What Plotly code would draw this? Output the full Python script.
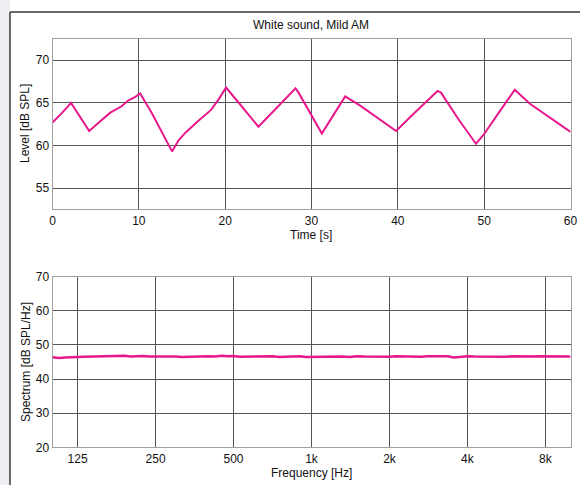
import plotly.graph_objects as go

# ---- data ----
time_s = [0, 1.0, 2.15, 3.2, 4.25, 5.5, 6.7, 8.0, 8.8, 9.6, 10.15, 11.5, 12.8, 13.85,
          14.6, 15.4, 16.8, 18.4, 19.3, 20.1, 21.5, 23.0, 23.85, 25.0, 26.5, 28.15,
          28.5, 29.8, 31.2, 32.5, 33.9, 35.6, 37.8, 39.8, 41.5, 43.2, 44.6, 45.0,
          47.0, 49.05, 49.9, 51.8, 53.55, 55.3, 57.5, 60.0]
level_db = [62.7, 63.7, 65.0, 63.3, 61.7, 62.8, 63.85, 64.6, 65.3, 65.7, 66.1, 63.8,
            61.4, 59.3, 60.6, 61.5, 62.8, 64.2, 65.5, 66.8, 65.1, 63.2, 62.2, 63.4,
            65.0, 66.7, 66.2, 63.9, 61.4, 63.5, 65.75, 64.7, 63.1, 61.7, 63.4, 65.0,
            66.4, 66.2, 63.1, 60.2, 61.2, 64.0, 66.55, 64.9, 63.35, 61.6]

freq_hz = [100, 106, 112, 118, 125, 132, 140, 150, 160, 170, 180, 190, 200, 212, 224,
           236, 250, 265, 280, 300, 315, 335, 355, 375, 400, 425, 450, 475, 500, 530,
           560, 600, 630, 670, 710, 750, 800, 850, 900, 950, 1000, 1060, 1120, 1180,
           1250, 1320, 1400, 1500, 1600, 1700, 1800, 1900, 2000, 2120, 2240, 2360,
           2500, 2650, 2800, 3000, 3150, 3350, 3550, 3750, 4000, 4250, 4500, 4750,
           5000, 5300, 5600, 6000, 6300, 6700, 7100, 7500, 8000, 8500, 9000, 9500, 10000]
spectrum_db = [46.4, 46.2, 46.3, 46.45, 46.5, 46.55, 46.6, 46.6, 46.75, 46.85, 46.95,
               46.8, 46.6, 46.7, 46.75, 46.6, 46.65, 46.6, 46.75, 46.6, 46.45, 46.55,
               46.5, 46.6, 46.7, 46.6, 46.8, 46.65, 46.75, 46.55, 46.6, 46.5, 46.65,
               46.55, 46.7, 46.5, 46.6, 46.55, 46.7, 46.5, 46.55, 46.6, 46.5, 46.65,
               46.55, 46.6, 46.5, 46.7, 46.6, 46.55, 46.65, 46.6, 46.55, 46.65, 46.6,
               46.5, 46.6, 46.55, 46.65, 46.6, 46.5, 46.65, 46.35, 46.6, 46.7, 46.6,
               46.55, 46.6, 46.5, 46.6, 46.55, 46.65, 46.6, 46.55, 46.6, 46.65, 46.6,
               46.55, 46.6, 46.55, 46.6]

freq_tickvals = [125, 250, 500, 1000, 2000, 4000, 8000]
freq_ticktext = ["125", "250", "500", "1k", "2k", "4k", "8k"]

title_text = "White sound, Mild AM"

# ---- figure ----
W, H = 580, 485
LINE = "#e8188c"
GRID = "#555555"
FRAME = "#a0a0a0"
FONT = "Liberation Sans, Arial, sans-serif"

fig = go.Figure()
fig.add_trace(go.Scatter(x=time_s, y=level_db, mode="lines",
                         line=dict(color=LINE, width=2), xaxis="x", yaxis="y",
                         showlegend=False, hoverinfo="skip"))
fig.add_trace(go.Scatter(x=freq_hz, y=spectrum_db, mode="lines",
                         line=dict(color=LINE, width=2.5), xaxis="x2", yaxis="y2",
                         showlegend=False, hoverinfo="skip"))

def px_x(p):
    return p / W

def px_y(p):
    return 1 - p / H

x_dom = [px_x(52.5), px_x(570.5)]
axis_common = dict(showgrid=True, gridcolor=GRID, gridwidth=1, showline=True,
                   linecolor=FRAME, linewidth=1, mirror=True, ticks="",
                   zeroline=False, automargin=False,
                   tickfont=dict(size=12, color="#111", family=FONT),
                   fixedrange=True)

fig.update_layout(
    width=W, height=H, autosize=False,
    margin=dict(l=0, r=0, t=0, b=0, pad=0),
    paper_bgcolor="white", plot_bgcolor="white",
    font=dict(family=FONT, size=12, color="#111"),
    xaxis=dict(domain=x_dom, range=[0, 60], tickvals=[0, 10, 20, 30, 40, 50, 60],
               anchor="y", **axis_common),
    yaxis=dict(domain=[px_y(209.3), px_y(39)], range=[52.5, 72.5],
               tickvals=[55, 60, 65, 70], anchor="x", **axis_common),
    xaxis2=dict(domain=x_dom, type="log", range=[2, 4], tickvals=freq_tickvals,
                ticktext=freq_ticktext, anchor="y2", **axis_common),
    yaxis2=dict(domain=[px_y(447.3), px_y(276.7)], range=[20, 70],
                tickvals=[20, 30, 40, 50, 60, 70], anchor="x2", **axis_common),
    shapes=[
        dict(type="rect", xref="paper", yref="paper", x0=0, x1=px_x(10), y0=0, y1=1,
             fillcolor="#eceef1", line=dict(width=0), layer="below"),
        dict(type="line", xref="paper", yref="paper", x0=px_x(10), x1=1,
             y0=px_y(12), y1=px_y(12), line=dict(color="#3a3a3a", width=1.5)),
        dict(type="line", xref="paper", yref="paper", x0=px_x(10), x1=px_x(10),
             y0=0, y1=px_y(12), line=dict(color="#3a3a3a", width=1.5)),
    ],
    annotations=[
        dict(text=title_text, xref="paper", yref="paper", x=px_x(311), y=px_y(25),
             showarrow=False, xanchor="center", yanchor="middle", font=dict(size=12)),
        dict(text="Time [s]", xref="paper", yref="paper", x=px_x(311), y=px_y(235),
             showarrow=False, xanchor="center", yanchor="middle", font=dict(size=12)),
        dict(text="Frequency [Hz]", xref="paper", yref="paper", x=px_x(311), y=px_y(473),
             showarrow=False, xanchor="center", yanchor="middle", font=dict(size=12)),
        dict(text="Level [dB SPL]", xref="paper", yref="paper", x=px_x(25), y=px_y(124),
             showarrow=False, xanchor="center", yanchor="middle", textangle=-90,
             font=dict(size=12)),
        dict(text="Spectrum [dB SPL/Hz]", xref="paper", yref="paper", x=px_x(26),
             y=px_y(362), showarrow=False, xanchor="center", yanchor="middle",
             textangle=-90, font=dict(size=12)),
    ],
)

fig.write_html("out.html", config={"displayModeBar": False})
